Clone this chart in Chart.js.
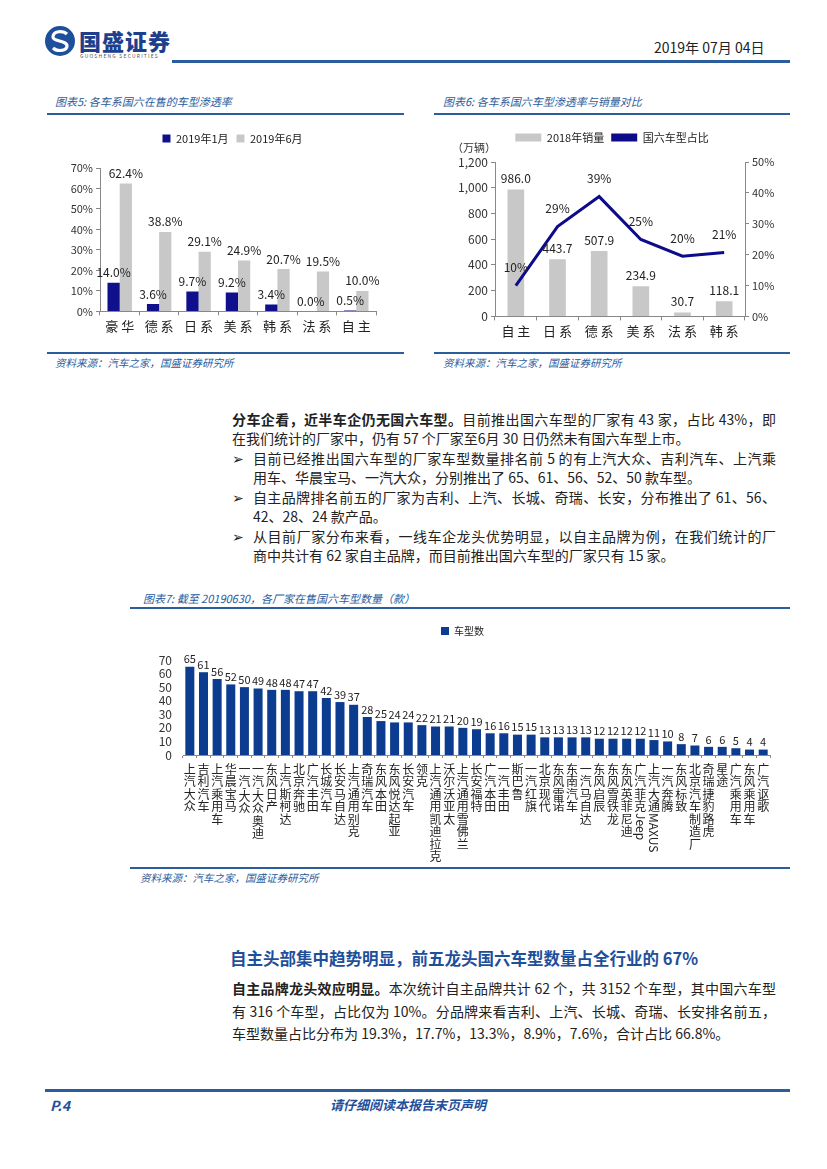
<!DOCTYPE html>
<html>
<head>
<meta charset="utf-8">
<script src="https://cdn.jsdelivr.net/npm/chart.js@4/dist/chart.umd.min.js"></script>
<style>
  body { margin:0; background:#fff; font-family:"Noto Sans CJK SC","Noto Sans",sans-serif; color:#222; }
  #page { position:relative; width:827px; height:1169px; overflow:hidden; }
  .abs { position:absolute; white-space:nowrap; }
  .hr { position:absolute; background:#2b5c9c; height:2px; }
  .ttl { position:absolute; font-size:11px; font-style:italic; color:#2b5c9c; white-space:nowrap; }
  .src { position:absolute; font-size:10.5px; font-style:italic; color:#2b5c9c; white-space:nowrap; }
  .line { position:absolute; font-size:14px; line-height:19px; white-space:nowrap; color:#222; }
  .just { text-align:justify; text-align-last:justify; white-space:normal; }
  canvas { position:absolute; }
</style>
</head>
<body>
<div id="page">
  <!-- шапка -->
  <svg class="abs" style="left:44px;top:25px" width="32" height="32" viewBox="0 0 32 32">
    <circle cx="16" cy="16" r="15" fill="#1d4f9b"/>
    <path d="M23 9 C19 5 9 6 9 12 C9 17 23 15 23 21 C23 26 13 27 9 23" stroke="#fff" stroke-width="3.2" fill="none"/>
  </svg>
  <div class="abs" style="left:79px;top:24px;font-size:22px;font-weight:900;color:#1d3f8c;letter-spacing:1px">国盛证券</div>
  <div class="abs" style="left:80px;top:52px;font-size:5px;color:#555;letter-spacing:1.2px">GUOSHENG SECURITIES</div>
  <div class="abs" style="left:654px;top:37px;font-size:14px;color:#222">2019年 07月 04日</div>
  <div class="hr" style="left:172px;top:60px;width:618px;height:3px"></div>

  <!-- графики 5 и 6 -->
  <div class="ttl" style="left:55px;top:93px">图表5:  各车系国六在售的车型渗透率</div>
  <div class="ttl" style="left:443px;top:93px">图表6:  各车系国六车型渗透率与销量对比</div>
  <div class="hr" style="left:47px;top:113px;width:357px"></div>
  <div class="hr" style="left:434px;top:113px;width:356px"></div>
  <canvas id="chart5" style="left:45px;top:125px" width="375" height="212"></canvas>
  <canvas id="chart6" style="left:432px;top:125px" width="360" height="217"></canvas>
  <div class="abs" style="left:452px;top:139px;font-size:11px;color:#333">（万辆）</div>
  <div class="hr" style="left:47px;top:352px;width:357px"></div>
  <div class="hr" style="left:434px;top:352px;width:356px"></div>
  <div class="src" style="left:55px;top:355px">资料来源：汽车之家，国盛证券研究所</div>
  <div class="src" style="left:443px;top:355px">资料来源：汽车之家，国盛证券研究所</div>

  <!-- текст -->
  <div class="line just" style="left:232px;top:410px;width:544px"><b>分车企看，近半车企仍无国六车型。</b>目前推出国六车型的厂家有 43 家，占比 43%，即</div>
  <div class="line" style="left:232px;top:429px">在我们统计的厂家中，仍有 57 个厂家至6月 30 日仍然未有国六车型上市。</div>
  <div class="line" style="left:232px;top:449px">➢</div>
  <div class="line just" style="left:253px;top:449px;width:523px">目前已经推出国六车型的厂家车型数量排名前 5 的有上汽大众、吉利汽车、上汽乘</div>
  <div class="line" style="left:253px;top:468px">用车、华晨宝马、一汽大众，分别推出了 65、61、56、52、50 款车型。</div>
  <div class="line" style="left:232px;top:488px">➢</div>
  <div class="line just" style="left:253px;top:488px;width:523px">自主品牌排名前五的厂家为吉利、上汽、长城、奇瑞、长安，分布推出了 61、56、</div>
  <div class="line" style="left:253px;top:507px">42、28、24 款产品。</div>
  <div class="line" style="left:232px;top:527px">➢</div>
  <div class="line just" style="left:253px;top:527px;width:523px">从目前厂家分布来看，一线车企龙头优势明显，以自主品牌为例，在我们统计的厂</div>
  <div class="line" style="left:253px;top:546px">商中共计有 62 家自主品牌，而目前推出国六车型的厂家只有 15 家。</div>

  <!-- график 7 -->
  <div class="ttl" style="left:143px;top:590px">图表7:  截至 20190630，各厂家在售国六车型数量（款）</div>
  <div class="hr" style="left:130px;top:607px;width:660px"></div>
  <canvas id="chart7" style="left:130px;top:618px" width="660" height="246"></canvas>
  <div class="hr" style="left:130px;top:867px;width:660px"></div>
  <div class="src" style="left:140px;top:870px">资料来源：汽车之家，国盛证券研究所</div>

  <!-- раздел -->
  <div class="abs" style="left:230px;top:946px;font-size:16.5px;font-weight:700;color:#1d4f9b">自主头部集中趋势明显，前五龙头国六车型数量占全行业的 67%</div>
  <div class="line just" style="left:232px;top:979px;width:544px"><b>自主品牌龙头效应明显。</b>本次统计自主品牌共计 62 个，共 3152 个车型，其中国六车型</div>
  <div class="line just" style="left:232px;top:1002px;width:544px">有 316 个车型，占比仅为 10%。分品牌来看吉利、上汽、长城、奇瑞、长安排名前五，</div>
  <div class="line" style="left:232px;top:1024px">车型数量占比分布为 19.3%，17.7%，13.3%，8.9%，7.6%，合计占比 66.8%。</div>

  <!-- подвал -->
  <div class="hr" style="left:45px;top:1089px;width:745px;height:3px"></div>
  <div class="abs" style="left:50px;top:1095px;font-size:14px;font-weight:700;font-style:italic;color:#1d4f9b">P.4</div>
  <div class="abs" style="left:330px;top:1095px;font-size:13px;font-weight:700;font-style:italic;color:#1d4f9b">请仔细阅读本报告末页声明</div>
</div>

<script>
// ---- данные: график 5
var cat5 = ['豪华', '德系', '日系', '美系', '韩系', '法系', '自主'];
var jan5 = [14.0, 3.6, 9.7, 9.2, 3.4, 0.0, 0.5];
var jun5 = [62.4, 38.8, 29.1, 24.9, 20.7, 19.5, 10.0];
var ticks5 = [0, 10, 20, 30, 40, 50, 60, 70];

// ---- данные: график 6
var cat6 = ['自主', '日系', '德系', '美系', '法系', '韩系'];
var sales6 = [986.0, 443.7, 507.9, 234.9, 30.7, 118.1];
var share6 = [10.0, 29.1, 38.8, 24.9, 19.5, 20.7];
var ticksL6 = [0, 200, 400, 600, 800, 1000, 1200];
var ticksR6 = [0, 10, 20, 30, 40, 50];

// ---- данные: график 7
var cat7 = ['上汽大众', '吉利汽车', '上汽乘用车', '华晨宝马', '一汽-大众', '一汽-大众奥迪', '东风日产', '上汽斯柯达',
  '北京奔驰', '广汽丰田', '长城汽车', '长安马自达', '上汽通用别克', '奇瑞汽车', '东风本田', '东风悦达起亚',
  '长安汽车', '领克', '上汽通用凯迪拉克', '沃尔沃亚太', '上汽通用雪佛兰', '长安福特', '广汽本田', '一汽丰田',
  '斯巴鲁', '一汽红旗', '北京现代', '东风雷诺', '东南汽车', '一汽马自达', '东风启辰', '东风雪铁龙',
  '东风英菲尼迪', '广汽菲克Jeep', '上汽大通MAXUS', '一汽奔腾', '东风标致', '北京汽车制造厂', '奇瑞捷豹路虎', '星途',
  '广汽乘用车', '东风乘用车', '广汽讴歌'];
var count7 = [65, 61, 56, 52, 50, 49, 48, 48, 47, 47, 42, 39, 37, 28, 25, 24, 24, 22, 21, 21, 20, 19,
  16, 16, 15, 15, 13, 13, 13, 13, 12, 12, 12, 12, 11, 10, 8, 7, 6, 6, 5, 4, 4];
var ticks7 = [0, 10, 20, 30, 40, 50, 60, 70];

var FONT = '"Noto Sans CJK SC", "Noto Sans", sans-serif';
Chart.defaults.font.family = FONT;
Chart.defaults.color = '#333';
Chart.defaults.animation = false;

// подписи значений над столбиками/точками
var valueLabels = {
  id: 'valueLabels',
  afterDatasetsDraw: function (chart) {
    var ctx = chart.ctx;
    chart.data.datasets.forEach(function (ds, i) {
      if (!ds.labelFmt) return;
      var meta = chart.getDatasetMeta(i);
      meta.data.forEach(function (el, j) {
        ctx.save();
        ctx.font = ds.labelFont || ('12px ' + FONT);
        ctx.fillStyle = '#222';
        ctx.textAlign = 'center';
        ctx.textBaseline = 'bottom';
        ctx.fillText(ds.labelFmt(ds.data[j]), el.x, el.y - (ds.labelGap || 3));
        ctx.restore();
      });
    });
  }
};

// лишний отступ под легендой
var legendGap = {
  id: 'legendGap',
  afterInit: function (chart) {
    var o = chart.options.plugins.legendGap;
    if (!o || !chart.legend) return;
    var fit = chart.legend.fit;
    chart.legend.fit = function () {
      fit.call(this);
      this.height += o.extra;
    };
  }
};

// вертикальные подписи категорий (по одному иероглифу в строке)
var stackedLabels = {
  id: 'stackedLabels',
  afterDraw: function (chart) {
    var o = chart.options.plugins.stackedLabels;
    if (!o || !o.on) return;
    var ctx = chart.ctx, xs = chart.scales.x;
    ctx.save();
    ctx.font = '12px ' + FONT;
    ctx.fillStyle = '#222';
    chart.data.labels.forEach(function (lab, i) {
      var x = xs.getPixelForValue(i);
      var y = xs.bottom + 5;
      var parts = lab.match(/[A-Za-z]+|./g);
      parts.forEach(function (p) {
        if (p.length > 1) {
          ctx.save();
          ctx.translate(x, y);
          ctx.rotate(Math.PI / 2);
          ctx.textAlign = 'left';
          ctx.textBaseline = 'middle';
          ctx.fillText(p, 0, 0);
          y += ctx.measureText(p).width + 2;
          ctx.restore();
        } else if (p === '-') {
          ctx.textAlign = 'center';
          ctx.textBaseline = 'top';
          ctx.fillText(p, x, y - 7);
          y += 2;
        } else {
          ctx.textAlign = 'center';
          ctx.textBaseline = 'top';
          ctx.fillText(p, x, y);
          y += 12.5;
        }
      });
    });
    ctx.restore();
  }
};

Chart.register(valueLabels, stackedLabels, legendGap);

function spaced(s) { return s.split('').join(' '); }

// график 5
new Chart(document.getElementById('chart5'), {
  type: 'bar',
  data: {
    labels: cat5,
    datasets: [
      { label: '2019年1月', data: jan5, backgroundColor: '#10108c', labelFmt: function (v) { return v.toFixed(1) + '%'; }, labelGap: 4 },
      { label: '2019年6月', data: jun5, backgroundColor: '#c8c8c8', labelFmt: function (v) { return v.toFixed(1) + '%'; }, labelGap: 4 }
    ]
  },
  options: {
    responsive: false,
    layout: { padding: 0 },
    datasets: { bar: { categoryPercentage: 0.62, barPercentage: 1 } },
    plugins: {
      legend: { position: 'top', labels: { boxWidth: 8, boxHeight: 8, font: { size: 11 }, color: '#222', padding: 8 } },
      legendGap: { extra: 14 },
      tooltip: { enabled: false }
    },
    scales: {
      x: {
        grid: { drawOnChartArea: false, tickLength: 4, color: '#888' },
        border: { color: '#888' },
        ticks: { font: { size: 13 }, color: '#222', callback: function (v, i) { return spaced(cat5[i]); } }
      },
      y: {
        min: 0, max: 70,
        afterBuildTicks: function (s) { s.ticks = ticks5.map(function (v) { return { value: v }; }); },
        afterFit: function (s) { s.width = 55; },
        grid: { drawOnChartArea: false, tickLength: 4, color: '#888' },
        border: { color: '#888' },
        ticks: { autoSkip: false, font: { size: 11 }, color: '#333', callback: function (v) { return v + '%'; } }
      },
      // пустая ось справа — место под подписи «10.0%»
      yPad: {
        position: 'right', min: 0, max: 70,
        afterFit: function (s) { s.width = 44; },
        grid: { display: false },
        border: { display: false },
        ticks: { display: false }
      }
    }
  }
});

// график 6
new Chart(document.getElementById('chart6'), {
  data: {
    labels: cat6,
    datasets: [
      { type: 'line', label: '国六车型占比', data: share6, yAxisID: 'y1', borderColor: '#0c0c8a', backgroundColor: '#0c0c8a',
        borderWidth: 3, pointRadius: 0, tension: 0, order: 0,
        labelFmt: function (v) { return Math.round(v) + '%'; }, labelGap: 12 },
      { type: 'bar', label: '2018年销量', data: sales6, yAxisID: 'y', backgroundColor: '#c8c8c8', order: 1,
        categoryPercentage: 1, barPercentage: 0.4,
        labelFmt: function (v) { return v.toFixed(1); }, labelGap: 5 }
    ]
  },
  options: {
    responsive: false,
    layout: { padding: 0 },
    plugins: {
      legend: {
        position: 'top', reverse: true,
        labels: {
          font: { size: 11 }, color: '#222', padding: 7, boxWidth: 26, boxHeight: 8,
          generateLabels: function (chart) {
            var items = Chart.defaults.plugins.legend.labels.generateLabels(chart);
            items.forEach(function (it) {
              if (it.text === '国六车型占比') { it.lineWidth = 0; it.fillStyle = '#0c0c8a'; }
            });
            return items;
          }
        }
      },
      legendGap: { extra: 9 },
      tooltip: { enabled: false }
    },
    scales: {
      x: {
        grid: { drawOnChartArea: false, tickLength: 4, color: '#888' },
        border: { color: '#888' },
        ticks: { font: { size: 13 }, color: '#222', callback: function (v, i) { return spaced(cat6[i]); } }
      },
      y: {
        position: 'left', min: 0, max: 1200,
        afterBuildTicks: function (s) { s.ticks = ticksL6.map(function (v) { return { value: v }; }); },
        afterFit: function (s) { s.width = 63; },
        grid: { drawOnChartArea: false, tickLength: 4, color: '#888' },
        border: { color: '#888' },
        ticks: { autoSkip: false, font: { size: 12 }, color: '#333', callback: function (v) { return v.toLocaleString('en-US'); } }
      },
      y1: {
        position: 'right', min: 0, max: 50,
        afterBuildTicks: function (s) { s.ticks = ticksR6.map(function (v) { return { value: v }; }); },
        afterFit: function (s) { s.width = 47; },
        grid: { drawOnChartArea: false, tickLength: 4, color: '#888' },
        border: { color: '#888' },
        ticks: { autoSkip: false, font: { size: 11 }, color: '#333', callback: function (v) { return v + '%'; } }
      }
    }
  }
});

// график 7
new Chart(document.getElementById('chart7'), {
  type: 'bar',
  data: {
    labels: cat7,
    datasets: [
      { label: '车型数', data: count7, backgroundColor: '#0b3c8f', categoryPercentage: 1, barPercentage: 0.66,
        labelFmt: function (v) { return String(v); }, labelFont: '11px ' + FONT, labelGap: 2 }
    ]
  },
  options: {
    responsive: false,
    layout: { padding: { top: 0, left: 25, bottom: 106, right: 20 } },
    plugins: {
      legend: { position: 'top', labels: { boxWidth: 8, boxHeight: 8, font: { size: 10 }, color: '#222', padding: 8 } },
      legendGap: { extra: 14 },
      tooltip: { enabled: false },
      stackedLabels: { on: true }
    },
    scales: {
      x: {
        grid: { drawOnChartArea: false, tickLength: 3, color: '#888' },
        border: { color: '#888' },
        ticks: { display: false }
      },
      y: {
        min: 0, max: 70,
        afterBuildTicks: function (s) { s.ticks = ticks7.map(function (v) { return { value: v }; }); },
        afterFit: function (s) { s.width = 28; },
        grid: { display: false },
        border: { display: false },
        ticks: { autoSkip: false, font: { size: 12 }, color: '#333' }
      }
    }
  }
});
</script>
</body>
</html>
